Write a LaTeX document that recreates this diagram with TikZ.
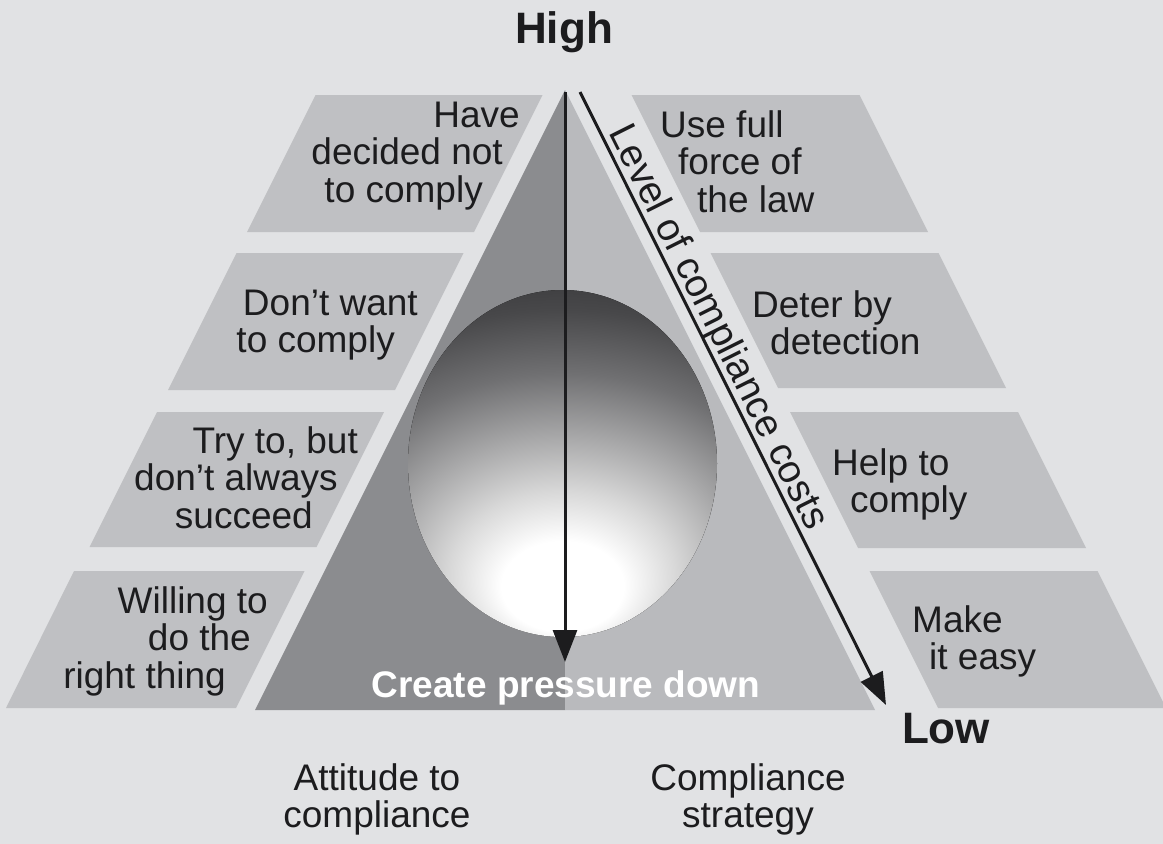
\documentclass[tikz,border=0pt]{standalone}
\usepackage{fontspec}
\setmainfont{Liberation Sans}
\usetikzlibrary{arrows.meta}
\definecolor{bg}{RGB}{225,226,228}
\definecolor{bandc}{RGB}{191,192,195}
\definecolor{triL}{RGB}{139,140,143}
\definecolor{triR}{RGB}{185,186,189}
\definecolor{ink}{RGB}{28,28,30}
\definecolor{sA}{RGB}{216,216,216}
\definecolor{sB}{RGB}{168,168,169}
\definecolor{sC}{RGB}{112,112,114}
\definecolor{sD}{RGB}{72,72,74}
\definecolor{sE}{RGB}{50,50,52}
\definecolor{sF}{RGB}{42,42,44}
\pgfdeclareradialshading{sphere}{\pgfpoint{0bp}{-19.7bp}}{color(0bp)=(white); color(6.5bp)=(white); color(12bp)=(sA); color(18bp)=(sB); color(25bp)=(sC); color(32bp)=(sD); color(39bp)=(sE); color(46bp)=(sF); color(64bp)=(sF)}
\tikzset{
  band/.style={fill=bandc},
  txt/.style={inner sep=0pt, text=ink, font=\fontsize{37}{37.5}\selectfont},
  lefttxt/.style={txt, align=right, anchor=north east},
  righttxt/.style={txt, align=left, anchor=north west},
  bigtxt/.style={inner sep=0pt, text=ink, font=\bfseries\fontsize{44}{44}\selectfont, anchor=base},
  arr/.style={line width=3pt, draw=ink, -{Triangle[length=32pt,width=24pt]}}
}
\newcommand{\fl}{\rule{0pt}{30pt}}
\newcommand{\gap}[1]{\rule{#1}{0pt}}
\begin{document}
\begin{tikzpicture}[x=1pt,y=-1pt]
\fill[bg] (0,0) rectangle (1163,844);
\useasboundingbox (0,0) rectangle (1163,844);
% left bands
\fill[band] (315.5,95) -- (542.5,95) -- (474,232) -- (247,232) -- cycle;
\fill[band] (236.5,253) -- (463.5,253) -- (395,390) -- (168,390) -- cycle;
\fill[band] (157,412) -- (384,412) -- (316.5,547) -- (89.5,547) -- cycle;
\fill[band] (74,571) -- (304.5,571) -- (236,708) -- (6,708) -- cycle;
% right bands
\fill[band] (631.5,95) -- (859.5,95) -- (928,232) -- (700,232) -- cycle;
\fill[band] (710.5,253) -- (938.5,253) -- (1006,388) -- (778,388) -- cycle;
\fill[band] (790,412) -- (1018,412) -- (1086,548) -- (858,548) -- cycle;
\fill[band] (869.5,571) -- (1097.5,571) -- (1166,708) -- (938,708) -- cycle;
% triangle
\fill[triL] (565,90) -- (565,710) -- (255,710) -- cycle;
\fill[triR] (565,90) -- (875,710) -- (565,710) -- cycle;
% sphere
\begin{scope}
\clip (562.5,463.5) ellipse [x radius=154.5, y radius=173.5];
\fill[shading=sphere] (327.5,290) rectangle (797.5,637);
\end{scope}
% arrows
\coordinate (vtop) at (565,92);
\coordinate (vtip) at (565,662);
\coordinate (dtop) at (580,92);
\coordinate (dtip) at (886,705);
\draw[arr] (vtop) -- (vtip);
\draw[arr] (dtop) -- (dtip);
% labels
\node[bigtxt] (high) at (564,43) {High};
\node[bigtxt] (low) at (946,743) {Low};
\node[inner sep=0pt, text=white, font=\bfseries\fontsize{37}{37}\selectfont, anchor=base] (press) at (566,697) {Create pressure down};
\node[inner sep=0pt, text=ink, font=\fontsize{39}{39}\selectfont, anchor=base, rotate=-63.43] (level) at (708,332) {Level of compliance costs};
% left texts
\node[lefttxt] (l1) at (520,97) {\fl Have\\decided not\gap{17pt}\\to comply\gap{37pt}};
\node[lefttxt] (l2) at (418,285) {\fl Don't want\\to comply\gap{23pt}};
\node[lefttxt] (l3) at (358,423) {\fl Try to, but\\don't always\gap{20pt}\\succeed\gap{45pt}};
\node[lefttxt] (l4) at (268,583) {\fl Willing to\\do the\gap{17pt}\\right thing\gap{42pt}};
% right texts
\node[righttxt] (r1) at (660,107) {\fl Use full\\\gap{18pt}force of\\\gap{37pt}the law};
\node[righttxt] (r2) at (752,287) {\fl Deter by\\\gap{18pt}detection};
\node[righttxt] (r3) at (832,445) {\fl Help to\\\gap{18pt}comply};
\node[righttxt] (r4) at (912,602) {\fl Make\\\gap{17pt}it easy};
% bottom
\node[txt, align=center, anchor=north] (att) at (377,760) {\fl Attitude to\\compliance};
\node[txt, align=center, anchor=north] (strat) at (748,760) {\fl Compliance\\strategy};
\end{tikzpicture}
\end{document}
